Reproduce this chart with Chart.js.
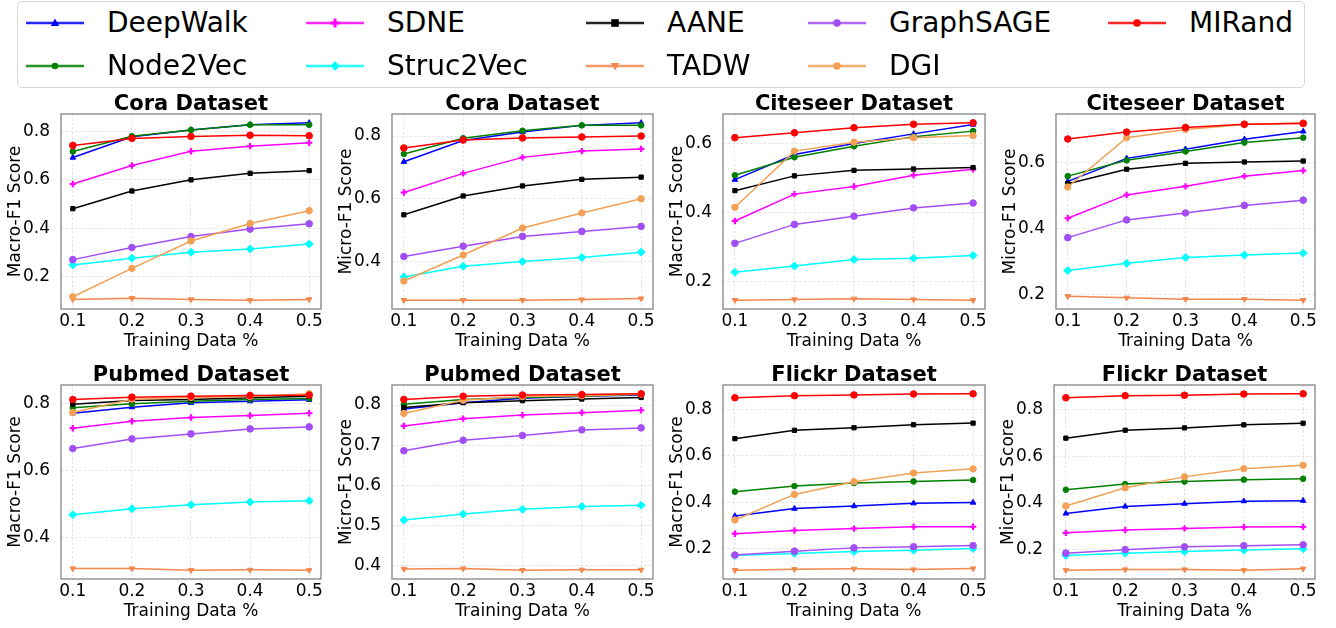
<!DOCTYPE html>
<html>
<head>
<meta charset="utf-8">
<script src="https://cdn.jsdelivr.net/npm/chart.js@4/dist/chart.umd.min.js"></script>
<style>
  html, body { margin:0; padding:0; background:#fff; }
  body { width:1336px; height:628px; overflow:hidden; position:relative; font-family:"DejaVu Sans", sans-serif; }
  canvas.cv { position:absolute; }
  #legend { position:absolute; left:17px; top:1px; width:1288px; height:87px; border:1px solid #d6d6d6; border-radius:5px; box-sizing:border-box; background:#fff; }
  .li { position:absolute; height:40px; display:flex; align-items:center; white-space:nowrap; font-size:28px; color:#000; }
  .li svg { position:absolute; left:0; top:10px; }
  .li span { position:absolute; left:81px; line-height:40px; }
</style>
</head>
<body>
<div id="legend"></div>
<script>
// ---------------- data ----------------
const xValues = [0.1, 0.2, 0.3, 0.4, 0.5];
const xTicks = [0.1, 0.2, 0.3, 0.4, 0.5];
const methods = ['DeepWalk', 'Node2Vec', 'SDNE', 'Struc2Vec', 'AANE', 'TADW', 'GraphSAGE', 'DGI', 'MIRand'];
const panelTitles = ['Cora Dataset', 'Cora Dataset', 'Citeseer Dataset', 'Citeseer Dataset',
                     'Pubmed Dataset', 'Pubmed Dataset', 'Flickr Dataset', 'Flickr Dataset'];
const yAxisLabels = ['Macro-F1 Score', 'Micro-F1 Score', 'Macro-F1 Score', 'Micro-F1 Score',
                     'Macro-F1 Score', 'Micro-F1 Score', 'Macro-F1 Score', 'Micro-F1 Score'];
const xAxisLabel = 'Training Data %';
const yTicks = [
  [0.2, 0.4, 0.6, 0.8],
  [0.4, 0.6, 0.8],
  [0.2, 0.4, 0.6],
  [0.2, 0.4, 0.6],
  [0.4, 0.6, 0.8],
  [0.4, 0.5, 0.6, 0.7, 0.8],
  [0.2, 0.4, 0.6, 0.8],
  [0.2, 0.4, 0.6, 0.8]
];
// rows: Cora Macro, Cora Micro, Citeseer Macro, Citeseer Micro, Pubmed Macro, Pubmed Micro, Flickr Macro, Flickr Micro
const deepWalk = [
  [0.691, 0.777, 0.805, 0.826, 0.834],
  [0.718, 0.786, 0.813, 0.834, 0.842],
  [0.496, 0.569, 0.601, 0.629, 0.656],
  [0.543, 0.613, 0.641, 0.671, 0.695],
  [0.771, 0.789, 0.802, 0.807, 0.811],
  [0.790, 0.806, 0.817, 0.822, 0.825],
  [0.341, 0.373, 0.384, 0.396, 0.399],
  [0.354, 0.384, 0.396, 0.407, 0.409]
];
const node2Vec = [
  [0.716, 0.779, 0.805, 0.826, 0.826],
  [0.743, 0.793, 0.817, 0.834, 0.834],
  [0.509, 0.561, 0.593, 0.621, 0.637],
  [0.559, 0.607, 0.634, 0.661, 0.676],
  [0.787, 0.799, 0.807, 0.812, 0.815],
  [0.802, 0.814, 0.819, 0.822, 0.827],
  [0.446, 0.470, 0.483, 0.490, 0.496],
  [0.456, 0.480, 0.491, 0.499, 0.503]
];
const sdne = [
  [0.582, 0.658, 0.717, 0.738, 0.752],
  [0.620, 0.681, 0.732, 0.752, 0.759],
  [0.376, 0.454, 0.476, 0.509, 0.526],
  [0.431, 0.502, 0.528, 0.559, 0.576],
  [0.726, 0.747, 0.758, 0.764, 0.771],
  [0.748, 0.766, 0.775, 0.781, 0.787],
  [0.265, 0.279, 0.287, 0.295, 0.295],
  [0.271, 0.283, 0.290, 0.296, 0.297]
];
const struc2Vec = [
  [0.248, 0.276, 0.300, 0.314, 0.334],
  [0.351, 0.385, 0.400, 0.413, 0.430],
  [0.227, 0.245, 0.264, 0.268, 0.276],
  [0.272, 0.294, 0.312, 0.319, 0.325],
  [0.467, 0.485, 0.497, 0.505, 0.509],
  [0.513, 0.528, 0.540, 0.547, 0.550],
  [0.171, 0.180, 0.188, 0.194, 0.201],
  [0.174, 0.184, 0.191, 0.197, 0.203]
];
const aane = [
  [0.480, 0.553, 0.599, 0.626, 0.637],
  [0.549, 0.609, 0.641, 0.662, 0.669],
  [0.464, 0.507, 0.523, 0.527, 0.531],
  [0.536, 0.580, 0.598, 0.602, 0.605],
  [0.798, 0.809, 0.812, 0.817, 0.822],
  [0.794, 0.806, 0.811, 0.815, 0.819],
  [0.674, 0.710, 0.721, 0.734, 0.741],
  [0.677, 0.711, 0.721, 0.734, 0.741]
];
const tadw = [
  [0.106, 0.111, 0.106, 0.103, 0.106],
  [0.277, 0.277, 0.277, 0.279, 0.282],
  [0.146, 0.148, 0.150, 0.148, 0.146],
  [0.194, 0.189, 0.185, 0.185, 0.182],
  [0.306, 0.306, 0.301, 0.302, 0.301],
  [0.391, 0.392, 0.388, 0.389, 0.389],
  [0.108, 0.112, 0.114, 0.111, 0.115],
  [0.111, 0.114, 0.114, 0.111, 0.117]
];
const graphSage = [
  [0.270, 0.320, 0.365, 0.396, 0.418],
  [0.416, 0.449, 0.480, 0.496, 0.512],
  [0.311, 0.366, 0.390, 0.414, 0.428],
  [0.372, 0.426, 0.447, 0.470, 0.486],
  [0.665, 0.694, 0.709, 0.724, 0.730],
  [0.686, 0.712, 0.724, 0.738, 0.743],
  [0.173, 0.190, 0.204, 0.209, 0.214],
  [0.184, 0.199, 0.211, 0.216, 0.220]
];
const dgi = [
  [0.117, 0.234, 0.347, 0.419, 0.472],
  [0.338, 0.421, 0.507, 0.555, 0.600],
  [0.416, 0.579, 0.605, 0.618, 0.624],
  [0.526, 0.676, 0.701, 0.716, 0.721],
  [0.773, 0.813, 0.818, 0.821, 0.829],
  [0.779, 0.812, 0.821, 0.823, 0.827],
  [0.324, 0.434, 0.489, 0.526, 0.544],
  [0.386, 0.464, 0.511, 0.546, 0.561]
];
const miRand = [
  [0.741, 0.770, 0.778, 0.783, 0.781],
  [0.762, 0.787, 0.794, 0.797, 0.800],
  [0.618, 0.632, 0.647, 0.657, 0.661],
  [0.672, 0.693, 0.707, 0.717, 0.719],
  [0.812, 0.819, 0.822, 0.824, 0.825],
  [0.814, 0.822, 0.825, 0.826, 0.828],
  [0.850, 0.859, 0.862, 0.866, 0.867],
  [0.850, 0.859, 0.861, 0.866, 0.867]
];
const seriesValues = [deepWalk, node2Vec, sdne, struc2Vec, aane, tadw, graphSage, dgi, miRand];

// ---------------- styles ----------------
const FONT = '"DejaVu Sans", sans-serif';
const colors = ['#0000ff', '#008000', '#ff00ff', '#00ffff', '#000000', '#f4874b', '#a24ef4', '#f2a154', '#ff0000'];
const pStyles = ['triangle', 'circle', 'cross', 'rectRot', 'rect', 'triangle', 'circle', 'circle', 'circle'];
const pRot = [0, 0, 0, 0, 0, 180, 0, 0, 0];
const pRad = [3.2, 2.8, 3.2, 4, 3, 3.2, 3.3, 3.2, 3.3];
const pBW = [1, 1, 2.2, 1, 1, 1, 1, 1, 1];

// plot rectangles [left, top, right, bottom]
const rects = [
  [61, 114, 321, 309], [392, 114, 653, 309], [723, 114, 985, 309], [1056, 114, 1315, 309],
  [61, 385, 321, 579], [392, 385, 653, 579], [723, 385, 985, 579], [1054, 385, 1315, 579]
];

const framePlugin = {
  id: 'frame',
  afterDatasetsDraw(chart) {
    const {ctx, chartArea: a} = chart;
    ctx.save();
    ctx.strokeStyle = '#7a7a7a';
    ctx.lineWidth = 1.2;
    ctx.strokeRect(a.left, a.top, a.right - a.left, a.bottom - a.top);
    ctx.restore();
  }
};

const PADL = 62, PADT = 32, PADR = 8, PADB = 46;

rects.forEach((r, p) => {
  const [L, T, R, B] = r;
  const cv = document.createElement('canvas');
  cv.className = 'cv';
  const w = R - L + PADL + PADR, h = B - T + PADT + PADB;
  cv.width = w; cv.height = h;
  cv.style.left = (L - PADL) + 'px';
  cv.style.top = (T - PADT) + 'px';
  cv.style.width = w + 'px'; cv.style.height = h + 'px';
  document.body.appendChild(cv);

  let lo = Infinity, hi = -Infinity;
  seriesValues.forEach(s => s[p].forEach(v => { lo = Math.min(lo, v); hi = Math.max(hi, v); }));
  const span = hi - lo;
  const yMin = lo - 0.05 * span, yMax = hi + 0.05 * span;

  const datasets = methods.map((m, i) => ({
    label: m,
    data: xValues.map((x, k) => ({x: x, y: seriesValues[i][p][k]})),
    borderColor: colors[i],
    backgroundColor: colors[i],
    pointBackgroundColor: colors[i],
    pointBorderColor: colors[i],
    borderWidth: 1.5,
    pointStyle: pStyles[i],
    pointRotation: pRot[i],
    pointRadius: pRad[i],
    pointBorderWidth: pBW[i],
    tension: 0,
    order: methods.length - 1 - i,
    clip: 6
  }));

  new Chart(cv, {
    type: 'line',
    data: {datasets},
    plugins: [framePlugin],
    options: {
      responsive: false,
      animation: false,
      devicePixelRatio: 1,
      layout: {padding: {left: 0, right: PADR, top: 0, bottom: 0}},
      plugins: {
        legend: {display: false},
        tooltip: {enabled: false},
        title: {
          display: true, text: panelTitles[p], fullSize: false, color: '#000',
          font: {family: FONT, size: 21, weight: 'bold', lineHeight: '18px'},
          padding: {top: PADT - 18, bottom: 0}
        }
      },
      scales: {
        x: {
          type: 'linear', min: 0.08, max: 0.52,
          afterBuildTicks: s => { s.ticks = xTicks.map(v => ({value: v})); },
          afterFit: s => { s.height = PADB; },
          ticks: {callback: v => Number(v).toFixed(1), color: '#000', font: {family: FONT, size: 17}, padding: 2, autoSkip: false, maxRotation: 0},
          grid: {color: 'rgba(0,0,0,0.14)', lineWidth: 0.8, drawTicks: false},
          border: {display: false, dash: [2.5, 2]},
          title: {display: true, text: xAxisLabel, color: '#000', font: {family: FONT, size: 17, lineHeight: 1.2}, padding: {top: 0, bottom: 3.5}}
        },
        y: {
          type: 'linear', min: yMin, max: yMax,
          afterBuildTicks: s => { s.ticks = yTicks[p].map(v => ({value: v})); },
          afterFit: s => { s.width = PADL; },
          ticks: {callback: v => Number(v).toFixed(1), color: '#000', font: {family: FONT, size: 17}, padding: 11, autoSkip: false},
          grid: {color: 'rgba(0,0,0,0.14)', lineWidth: 0.8, drawTicks: false},
          border: {display: false, dash: [2.5, 2]},
          title: {display: true, text: yAxisLabels[p], color: '#000', font: {family: FONT, size: 17, lineHeight: 1.2}, padding: {top: 6, bottom: 0}}
        }
      }
    }
  });
});

// ---------------- legend ----------------
const legendCols = [26, 306, 586, 808, 1108];
const legendRows = [23, 66];
function markerSvg(i) {
  const c = colors[i], cx = 29, cy = 10;
  switch (i) {
    case 0: return `<polygon points="${cx},${cy-4.5} ${cx+4.2},${cy+3} ${cx-4.2},${cy+3}" fill="${c}"/>`;
    case 1: return `<circle cx="${cx}" cy="${cy}" r="3.3" fill="${c}"/>`;
    case 2: return `<rect x="${cx-1.5}" y="${cy-4.5}" width="3" height="9" fill="${c}"/><rect x="${cx-4.5}" y="${cy-1.5}" width="9" height="3" fill="${c}"/>`;
    case 3: return `<polygon points="${cx},${cy-5} ${cx+4.5},${cy} ${cx},${cy+5} ${cx-4.5},${cy}" fill="${c}"/>`;
    case 4: return `<rect x="${cx-3.8}" y="${cy-3.8}" width="7.6" height="7.6" fill="${c}"/>`;
    case 5: return `<polygon points="${cx},${cy+4.5} ${cx+4.2},${cy-3} ${cx-4.2},${cy-3}" fill="${c}"/>`;
    default: return `<circle cx="${cx}" cy="${cy}" r="3.8" fill="${c}"/>`;
  }
}
methods.forEach((m, i) => {
  const col = Math.floor(i / 2), row = i % 2;
  const d = document.createElement('div');
  d.className = 'li';
  d.style.left = legendCols[col] + 'px';
  d.style.top = (legendRows[row] - 20) + 'px';
  d.innerHTML = `<svg width="60" height="20"><line x1="0" y1="10" x2="58" y2="10" stroke="${colors[i]}" stroke-width="2.6" stroke-opacity="0.85"/>${markerSvg(i)}</svg><span>${m}</span>`;
  document.body.appendChild(d);
});
</script>
</body>
</html>
